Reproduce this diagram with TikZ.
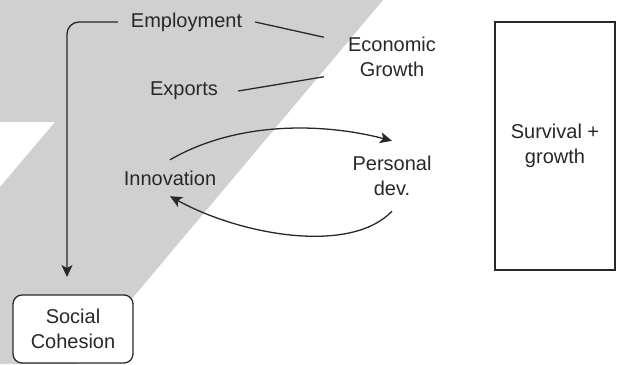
\documentclass[tikz,border=0pt]{standalone}
\usepackage{fontspec}
\setmainfont{Liberation Sans}
\usepackage{tikz}
\usetikzlibrary{arrows.meta}
\definecolor{bggray}{RGB}{208,208,208}
\definecolor{ink}{RGB}{40,40,40}

\begin{document}
\begin{tikzpicture}[x=1pt, y=-1pt,
  lbl/.style={text=ink, align=center, inner sep=0pt, font=\fontsize{20}{24.5}\selectfont},
  link/.style={ink, line width=1.3pt},
  arr/.style={link, -{Stealth[length=12pt,width=11pt,inset=3pt]}}]
\useasboundingbox (0,0) rectangle (617,364);
\fill [bggray] (0,0) -- (383,0) -- (77,364) -- (0,364) -- (0,187) -- (55,122) -- (0,122) -- cycle;

\node [lbl, minimum width=137pt, minimum height=20pt] (emp) at (186.5,22) {Employment};
\node [lbl, minimum width=108pt, minimum height=20pt] (exp) at (184,91) {Exports};
\node [lbl, minimum width=136pt, minimum height=34pt] (eco) at (392,57) {Economic\\Growth};
\node [lbl, minimum width=100pt, minimum height=36pt] (inn) at (170,178) {Innovation};
\node [lbl, minimum width=100pt, minimum height=70pt] (pers) at (392,176) {Personal\\dev.};
\node [lbl, draw=ink, line width=1.3pt, rounded corners=9pt, fill=white,
       minimum width=120pt, minimum height=68pt] (soc) at (73,329) {Social\\Cohesion};
\node [lbl, draw=ink, line width=1.3pt, fill=white,
       minimum width=120pt, minimum height=248pt] (surv) at (555,146) {Survival +\\growth};
\coordinate (socin) at (67,277);

\draw [link] (emp.east) -- (eco.north west);
\draw [link] (exp.east) -- (eco.south west);
\draw [arr, rounded corners=12pt] (emp.west) -| (socin);
\draw [arr] (inn.north) .. controls (235,122) and (320,122) .. (pers.north);
\draw [arr] (pers.south) .. controls (350,255) and (240,235) .. (inn.south);
\end{tikzpicture}
\end{document}
